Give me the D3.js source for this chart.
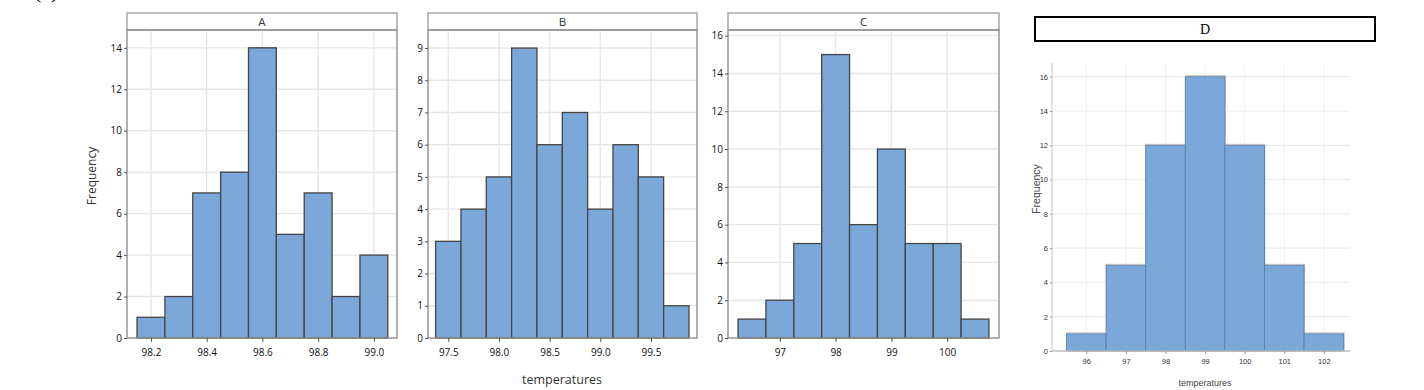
<!DOCTYPE html>
<html><head><meta charset="utf-8">
<script src="https://cdn.jsdelivr.net/npm/d3@7"></script>
<style>html,body{margin:0;padding:0;background:#fff;}svg{display:block;}</style>
</head><body>
<svg id="chart" width="1424" height="390"></svg>
<script>
// ---------- data ----------
const panelNames = ["A", "B", "C", "D"];
const centersA = [98.2, 98.3, 98.4, 98.5, 98.6, 98.7, 98.8, 98.9, 99.0];
const countsA  = [1, 2, 7, 8, 14, 5, 7, 2, 4];
const binWidthA = 0.1;
const centersB = [97.5, 97.75, 98.0, 98.25, 98.5, 98.75, 99.0, 99.25, 99.5, 99.75];
const countsB  = [3, 4, 5, 9, 6, 7, 4, 6, 5, 1];
const binWidthB = 0.25;
const centersC = [96.5, 97.0, 97.5, 98.0, 98.5, 99.0, 99.5, 100.0, 100.5];
const countsC  = [1, 2, 5, 15, 6, 10, 5, 5, 1];
const binWidthC = 0.5;
const centersD = [96, 97, 98, 99, 100, 101, 102];
const countsD  = [1, 5, 12, 16, 12, 5, 1];
const binWidthD = 1;
const xTicksA = [98.2, 98.4, 98.6, 98.8, 99.0];
const xTicksB = [97.5, 98.0, 98.5, 99.0, 99.5];
const xTicksC = [97, 98, 99, 100];
const xTicksD = [96, 97, 98, 99, 100, 101, 102];
const yTicksA = [0, 2, 4, 6, 8, 10, 12, 14];
const yTicksB = [0, 1, 2, 3, 4, 5, 6, 7, 8, 9];
const yTicksC = [0, 2, 4, 6, 8, 10, 12, 14, 16];
const yTicksD = [0, 2, 4, 6, 8, 10, 12, 14, 16];
const xLabel = "temperatures";
const yLabel = "Frequency";
const questionLabel = "(c)";

// ---------- layout ----------
const svg = d3.select("#chart");
const FONT = "'Open Sans', 'Noto Sans', sans-serif";
const BAR = "#7ba7d9";

svg.append("text").attr("x", 34).attr("y", -2)
  .attr("font-family", "'Liberation Serif', serif").attr("font-size", 22)
  .attr("fill", "#111").text(questionLabel);

const mini = [
  {name: panelNames[0], centers: centersA, counts: countsA, bw: binWidthA, xt: xTicksA, yt: yTicksA,
   x0: 127, x1: 397, xd: [98.114, 99.083], yd: [0, 14.86], fmt: d3.format(".1f")},
  {name: panelNames[1], centers: centersB, counts: countsB, bw: binWidthB, xt: xTicksB, yt: yTicksB,
   x0: 428, x1: 697, xd: [97.30, 99.954], yd: [0, 9.56], fmt: d3.format(".1f")},
  {name: panelNames[2], centers: centersC, counts: countsC, bw: binWidthC, xt: xTicksC, yt: yTicksC,
   x0: 728, x1: 999, xd: [96.07, 100.93], yd: [0, 16.3], fmt: d3.format("d")}
];
const plotTop = 30, plotBottom = 338, stripTop = 13;

mini.forEach(p => {
  const x = d3.scaleLinear().domain(p.xd).range([p.x0, p.x1]);
  const y = d3.scaleLinear().domain(p.yd).range([plotBottom, plotTop]);
  const g = svg.append("g");
  // strip
  g.append("rect").attr("x", p.x0).attr("y", stripTop).attr("width", p.x1 - p.x0).attr("height", plotTop - stripTop)
    .attr("fill", "#fff").attr("stroke", "#9a9a9a").attr("stroke-width", 1.3);
  g.append("text").attr("x", (p.x0 + p.x1) / 2).attr("y", plotTop - 4).attr("text-anchor", "middle")
    .attr("font-family", FONT).attr("font-size", 11.5).attr("fill", "#333").text(p.name);
  // grid
  g.selectAll(".gx").data(p.xt).join("line")
    .attr("x1", d => x(d)).attr("x2", d => x(d)).attr("y1", plotTop).attr("y2", plotBottom)
    .attr("stroke", "#e6e6e6").attr("stroke-width", 1.4);
  g.selectAll(".gy").data(p.yt.filter(d => d > 0)).join("line")
    .attr("x1", p.x0).attr("x2", p.x1).attr("y1", d => y(d)).attr("y2", d => y(d))
    .attr("stroke", "#e6e6e6").attr("stroke-width", 1.4);
  // bars
  g.selectAll(".bar").data(p.centers.map((c, i) => ({c, v: p.counts[i]}))).join("rect")
    .attr("x", d => x(d.c - p.bw / 2)).attr("width", d => x(d.c + p.bw / 2) - x(d.c - p.bw / 2))
    .attr("y", d => y(d.v)).attr("height", d => y(0) - y(d.v))
    .attr("fill", BAR).attr("stroke", "#454545").attr("stroke-width", 1.3);
  // frame
  g.append("rect").attr("x", p.x0).attr("y", plotTop).attr("width", p.x1 - p.x0).attr("height", plotBottom - plotTop)
    .attr("fill", "none").attr("stroke", "#8f8f8f").attr("stroke-width", 1.4);
  // axes
  const xa = g.append("g").attr("transform", `translate(0,${plotBottom})`)
    .call(d3.axisBottom(x).tickValues(p.xt).tickFormat(p.fmt).tickSize(4).tickPadding(7));
  const ya = g.append("g").attr("transform", `translate(${p.x0},0)`)
    .call(d3.axisLeft(y).tickValues(p.yt).tickFormat(d3.format("d")).tickSize(3).tickPadding(2));
  [xa, ya].forEach(a => {
    a.select(".domain").remove();
    a.selectAll(".tick line").attr("stroke", "#555");
    a.selectAll("text").attr("font-family", FONT).attr("font-size", 10).attr("fill", "#111");
  });
});

svg.append("text").attr("transform", "translate(96,176) rotate(-90)").attr("text-anchor", "middle")
  .attr("font-family", FONT).attr("font-size", 12).attr("fill", "#333").text(yLabel);
svg.append("text").attr("x", 562).attr("y", 384).attr("text-anchor", "middle")
  .attr("font-family", FONT).attr("font-size", 12.5).attr("fill", "#333").text(xLabel);

// ---------- panel D ----------
(function() {
  const NF = "'Liberation Sans Narrow', 'Liberation Sans', sans-serif";
  const x0 = 1052, x1 = 1350, yTop = 63, yBot = 351;
  const x = d3.scaleLinear().domain([95.134, 102.66]).range([x0, x1]);
  const y = d3.scaleLinear().domain([0, 16.8]).range([yBot, yTop]);
  const g = svg.append("g");
  g.append("rect").attr("x", 1035).attr("y", 17).attr("width", 340).attr("height", 24)
    .attr("fill", "#fff").attr("stroke", "#000").attr("stroke-width", 2);
  g.append("text").attr("x", 1205).attr("y", 34).attr("text-anchor", "middle")
    .attr("font-family", "'Liberation Serif', serif").attr("font-size", 14).attr("fill", "#000").text(panelNames[3]);
  g.selectAll(".gx").data(xTicksD).join("line")
    .attr("x1", d => x(d)).attr("x2", d => x(d)).attr("y1", yTop).attr("y2", yBot)
    .attr("stroke", "#efefef").attr("stroke-width", 1);
  g.selectAll(".gy").data(yTicksD.filter(d => d > 0)).join("line")
    .attr("x1", x0).attr("x2", x1).attr("y1", d => y(d)).attr("y2", d => y(d))
    .attr("stroke", "#ececec").attr("stroke-width", 1.2);
  const bars = centersD.map((c, i) => ({c, v: countsD[i]}));
  g.selectAll(".shadow").data(bars).join("rect")
    .attr("x", d => x(d.c - binWidthD / 2) + 0.5).attr("width", d => x(d.c + binWidthD / 2) - x(d.c - binWidthD / 2))
    .attr("y", d => y(d.v) - 1).attr("height", d => y(0) - y(d.v) + 1)
    .attr("fill", "none").attr("stroke", "#c8c8c8").attr("stroke-width", 1);
  g.selectAll(".bar").data(bars).join("rect")
    .attr("x", d => x(d.c - binWidthD / 2)).attr("width", d => x(d.c + binWidthD / 2) - x(d.c - binWidthD / 2))
    .attr("y", d => y(d.v)).attr("height", d => y(0) - y(d.v))
    .attr("fill", BAR).attr("stroke", "#5f7ea3").attr("stroke-width", 0.9);
  g.append("line").attr("x1", x0).attr("x2", x0).attr("y1", yTop).attr("y2", yBot)
    .attr("stroke", "#c4c4c4").attr("stroke-width", 1);
  g.append("line").attr("x1", x0).attr("x2", x1).attr("y1", yBot).attr("y2", yBot)
    .attr("stroke", "#bdbdbd").attr("stroke-width", 1.5);
  const xa = g.append("g").attr("transform", `translate(0,${yBot})`)
    .call(d3.axisBottom(x).tickValues(xTicksD).tickFormat(d3.format("d")).tickSize(3).tickPadding(5));
  const ya = g.append("g").attr("transform", `translate(${x0},0)`)
    .call(d3.axisLeft(y).tickValues(yTicksD).tickFormat(d3.format("d")).tickSize(2).tickPadding(2));
  [xa, ya].forEach(a => {
    a.select(".domain").remove();
    a.selectAll(".tick line").attr("stroke", "#999");
    a.selectAll("text").attr("font-family", NF).attr("font-size", 7.5).attr("fill", "#333");
  });
  g.append("text").attr("transform", "translate(1040,189) rotate(-90)").attr("text-anchor", "middle")
    .attr("font-family", NF).attr("font-size", 10.5).attr("fill", "#444").text(yLabel);
  g.append("text").attr("x", 1205).attr("y", 386).attr("text-anchor", "middle")
    .attr("font-family", NF).attr("font-size", 9).attr("fill", "#444").text(xLabel);
})();
</script>
</body></html>
